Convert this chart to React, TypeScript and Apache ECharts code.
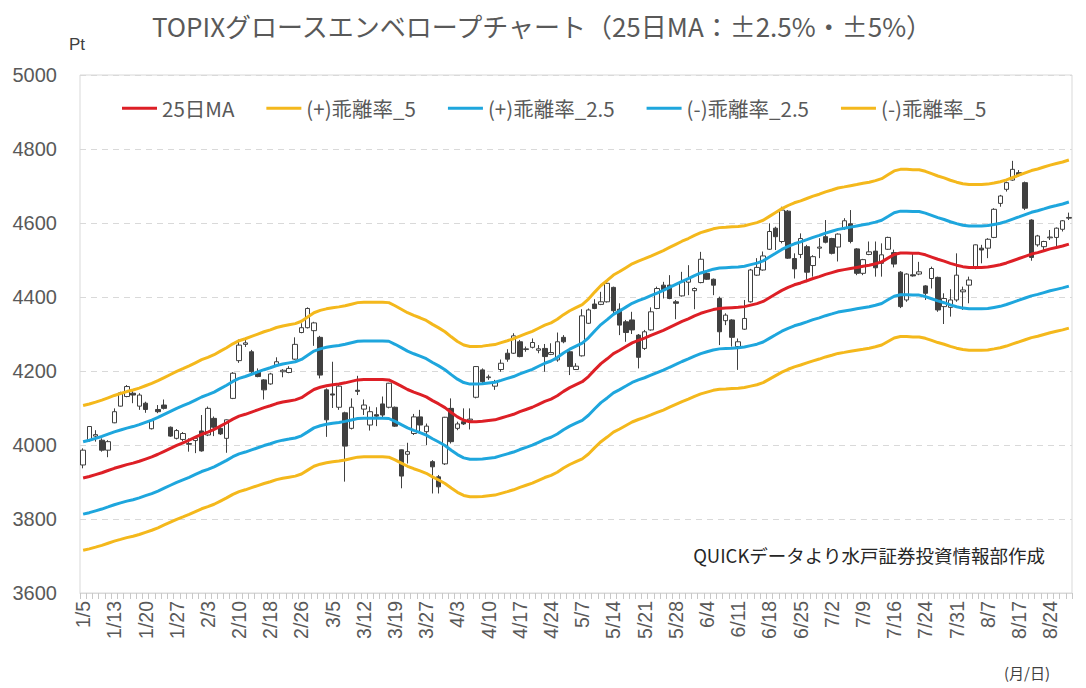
import React, { useEffect, useRef } from "react";
import * as echarts from "echarts";

const dates = [
  "1/5","1/6","1/7","1/8","1/9","1/13","1/14","1/15","1/16","1/19","1/20","1/21","1/22","1/23","1/26","1/27","1/28","1/29","1/30",
  "2/2","2/3","2/4","2/5","2/6","2/9","2/10","2/12","2/13","2/16","2/17","2/18","2/19","2/20","2/24","2/25","2/26","2/27",
  "3/2","3/3","3/4","3/5","3/6","3/9","3/10","3/11","3/12","3/13","3/16","3/17","3/18","3/19","3/23","3/24","3/25","3/26","3/27","3/30","3/31",
  "4/1","4/2","4/3","4/6","4/7","4/8","4/9","4/10","4/13","4/14","4/15","4/16","4/17","4/20","4/21","4/22","4/23","4/24","4/27","4/28","4/30",
  "5/1","5/7","5/8","5/11","5/12","5/13","5/14","5/15","5/18","5/19","5/20","5/21","5/22","5/25","5/26","5/27","5/28","5/29",
  "6/1","6/2","6/3","6/4","6/5","6/8","6/9","6/10","6/11","6/12","6/15","6/16","6/17","6/18","6/19","6/22","6/23","6/24","6/25","6/26","6/29","6/30",
  "7/1","7/2","7/3","7/6","7/7","7/8","7/9","7/10","7/13","7/14","7/15","7/16","7/17","7/21","7/22","7/23","7/24","7/27","7/28","7/29","7/30","7/31",
  "8/3","8/4","8/5","8/6","8/7","8/10","8/12","8/13","8/14","8/17","8/18","8/19","8/20","8/21","8/24","8/25","8/26","8/27",
];

const opens = [
  3946,4014,4024,4013,3986,4060,4105,4131,4140,4105,4113,4044,4096,4108,4048,4018,4015,4004,4012,4038,
  4027,4072,4045,4018,4126,4228,4272,4252,4198,4176,4165,4214,4198,4196,4232,4304,4317,4309,4291,4149,
  4138,4102,4087,4045,4148,4097,4054,4082,4111,4102,4102,3987,3975,4031,4076,4036,3955,3914,3949,4099,
  4045,4063,4067,4129,4203,4182,4159,4204,4248,4248,4279,4258,4264,4256,4261,4245,4230,4291,4252,4204,
  4241,4329,4381,4380,4387,4426,4367,4333,4338,4297,4261,4311,4369,4432,4432,4387,4403,4440,4417,4439,
  4464,4448,4396,4336,4338,4266,4313,4387,4459,4473,4529,4586,4550,4632,4504,4515,4536,4485,4532,4563,
  4558,4535,4587,4598,4530,4464,4515,4524,4491,4529,4520,4467,4392,4460,4462,4430,4450,4453,4374,4372,
  4392,4414,4432,4477,4532,4532,4561,4653,4691,4716,4736,4709,4608,4541,4536,4560,4561,4583,4613,
];

const closes = [
  3986,4050,4028,3986,4009,4090,4141,4158,4135,4135,4096,4066,4090,4099,4024,4039,4031,4002,4018,3984,
  4099,4048,4030,4068,4194,4270,4276,4198,4185,4149,4192,4225,4202,4207,4272,4317,4369,4330,4189,4068,
  4135,4159,3997,4102,4145,4108,4090,4078,4081,4167,4051,3916,3982,4076,4054,4051,3941,3887,4075,4009,
  4057,4057,4070,4212,4171,4184,4171,4221,4232,4295,4239,4260,4277,4260,4239,4250,4279,4279,4212,4213,
  4349,4365,4369,4387,4437,4363,4324,4304,4311,4237,4306,4360,4423,4419,4396,4383,4441,4450,4423,4502,
  4448,4432,4306,4351,4291,4279,4342,4473,4480,4511,4577,4563,4635,4505,4476,4558,4467,4509,4535,4548,
  4518,4570,4606,4550,4464,4501,4522,4479,4514,4561,4489,4374,4462,4457,4468,4410,4477,4365,4396,4392,
  4459,4419,4446,4541,4527,4556,4637,4673,4709,4745,4730,4640,4507,4565,4550,4562,4586,4606,4615,
];

const lows = [
  3937,4009,4009,3982,3967,4059,4104,4129,4113,4095,4087,4042,4086,4096,4022,4015,4010,3982,3978,3982,
  4024,4024,4027,3979,4124,4222,4265,4192,4183,4123,4163,4212,4183,4194,4230,4302,4315,4268,4180,4022,
  4100,4095,3901,4042,4135,4081,4039,4051,4075,4099,4049,3883,3950,4027,4031,4000,3869,3869,3946,4004,
  4040,4054,4042,4126,4167,4176,4149,4198,4225,4246,4237,4252,4261,4248,4198,4243,4225,4275,4189,4203,
  4239,4327,4367,4378,4385,4351,4297,4279,4300,4207,4257,4309,4367,4396,4394,4340,4401,4405,4367,4437,
  4446,4405,4270,4324,4266,4203,4311,4385,4457,4471,4527,4527,4545,4503,4450,4505,4440,4455,4505,4545,
  4515,4496,4581,4545,4459,4459,4513,4455,4455,4527,4480,4370,4387,4455,4459,4392,4423,4360,4327,4347,
  4387,4365,4383,4475,4491,4505,4559,4644,4685,4714,4725,4635,4498,4536,4527,4554,4534,4577,4608,
];

const highs = [
  3991,4051,4040,4018,4013,4099,4144,4162,4146,4140,4117,4068,4108,4123,4050,4043,4035,4018,4022,4081,
  4104,4077,4049,4069,4197,4285,4285,4257,4207,4178,4195,4237,4205,4213,4291,4329,4372,4333,4295,4153,
  4225,4162,4090,4126,4187,4123,4104,4102,4131,4168,4104,3988,4006,4084,4095,4058,3959,3919,4076,4126,
  4063,4099,4099,4213,4207,4190,4176,4231,4259,4302,4284,4266,4288,4270,4273,4275,4304,4297,4255,4221,
  4367,4369,4394,4414,4446,4428,4383,4338,4360,4300,4311,4372,4428,4441,4459,4392,4468,4486,4426,4522,
  4470,4450,4401,4356,4340,4288,4392,4476,4505,4523,4599,4590,4644,4635,4518,4572,4541,4513,4559,4608,
  4560,4572,4613,4635,4532,4503,4550,4550,4545,4563,4528,4470,4464,4518,4495,4432,4482,4455,4410,4421,
  4518,4428,4455,4542,4541,4559,4640,4676,4712,4768,4743,4712,4610,4568,4552,4581,4588,4608,4628,
];

const ma25 = [
  3911,3915,3920,3925,3931,3937,3942,3947,3951,3956,3962,3968,3975,3983,3991,3999,4006,4013,4021,4029,
  4035,4042,4051,4060,4070,4078,4083,4089,4095,4101,4106,4112,4116,4119,4122,4128,4139,4150,4156,4160,
  4163,4165,4168,4172,4176,4177,4177,4177,4177,4176,4168,4159,4150,4143,4137,4130,4120,4111,4101,4088,
  4076,4067,4063,4063,4064,4066,4068,4073,4078,4083,4090,4096,4102,4110,4118,4124,4133,4145,4155,4163,
  4171,4185,4203,4220,4233,4247,4256,4266,4276,4283,4289,4296,4303,4310,4318,4326,4334,4341,4349,4356,
  4361,4366,4369,4370,4371,4372,4374,4378,4382,4388,4398,4408,4418,4426,4433,4438,4444,4450,4455,4461,
  4466,4471,4474,4477,4480,4483,4486,4490,4495,4505,4515,4519,4519,4518,4518,4514,4508,4502,4497,4491,
  4486,4482,4480,4480,4480,4481,4484,4487,4492,4498,4504,4510,4516,4520,4525,4530,4534,4538,4543,
];

// Envelope widths stated in the chart title (25日MA：±2.5%・±5%)
const envelopePct = { wide: 5, narrow: 2.5 };

const yTicks = { min: 3600, max: 5000, interval: 200 };

const legendNames = ["25日MA", "(+)乖離率_5", "(+)乖離率_2.5", "(-)乖離率_2.5", "(-)乖離率_5"];

const RED = "#dd1f26";
const GOLD = "#f4b81c";
const BLUE = "#1ea6dd";
const TEXT = "#595959";
const JP = "'Noto Sans CJK JP', 'Noto Sans', sans-serif";
const NUM = "'Liberation Sans', Arial, sans-serif";

export default function App() {
  const ref = useRef<HTMLDivElement>(null);

  useEffect(() => {
    document.body.style.margin = "0";
    if (!ref.current) return;
    const chart = echarts.init(ref.current, undefined, { renderer: "svg" });

    const env = (p: number) => ma25.map((v) => Math.round(v * (1 + p / 100) * 10) / 10);
    const candle = dates.map((_, i) => [opens[i], closes[i], lows[i], highs[i]]);

    const line = (name: string, data: number[], color: string) => ({
      name,
      type: "line",
      data,
      showSymbol: false,
      symbol: "none",
      lineStyle: { color, width: 3 },
      itemStyle: { color },
      z: 3,
    });

    chart.setOption({
      animation: false,
      backgroundColor: "#ffffff",
      title: {
        text: "TOPIXグロースエンベロープチャート（25日MA：±2.5%・±5%）",
        left: 537,
        textAlign: "center",
        top: 7,
        textStyle: { fontFamily: JP, fontSize: 26, fontWeight: "normal", color: TEXT },
      },
      legend: {
        data: legendNames,
        left: 117,
        top: 93,
        icon: "rect",
        itemWidth: 35,
        itemHeight: 3,
        itemGap: 32,
        textStyle: { fontFamily: JP, fontSize: 20.5, color: TEXT },
      },
      grid: {
        left: 80,
        right: 14,
        top: 75,
        bottom: 95,
        show: true,
        borderColor: "#d9d9d9",
        borderWidth: 1,
      },
      xAxis: {
        type: "category",
        data: dates,
        boundaryGap: true,
        axisLine: { lineStyle: { color: "#d9d9d9" } },
        axisTick: { show: true, interval: 0, length: 6, lineStyle: { color: "#c8c8c8" } },
        axisLabel: { interval: 4, rotate: 90, fontSize: 19.5, color: TEXT, fontFamily: NUM, margin: 8 },
        splitLine: { show: false },
      },
      yAxis: {
        type: "value",
        min: yTicks.min,
        max: yTicks.max,
        interval: yTicks.interval,
        axisLine: { show: false },
        axisTick: { show: false },
        axisLabel: {
          fontSize: 20,
          color: TEXT,
          fontFamily: NUM,
          margin: 23,
          formatter: (v: number) => String(v),
        },
        splitLine: { lineStyle: { color: "#d9d9d9", type: [6, 5], width: 1 } },
      },
      series: [
        {
          name: "TOPIXグロース",
          type: "candlestick",
          data: candle,
          barWidth: 5,
          itemStyle: {
            color: "#ffffff",
            color0: "#404040",
            borderColor: "#404040",
            borderColor0: "#404040",
            borderWidth: 1,
          },
          z: 2,
        },
        line(legendNames[0], ma25, RED),
        line(legendNames[1], env(envelopePct.wide), GOLD),
        line(legendNames[2], env(envelopePct.narrow), BLUE),
        line(legendNames[3], env(-envelopePct.narrow), BLUE),
        line(legendNames[4], env(-envelopePct.wide), GOLD),
      ],
      graphic: [
        {
          type: "text",
          left: 69,
          top: 36,
          style: { text: "Pt", fontSize: 17, fill: "#404040", fontFamily: NUM },
        },
        {
          type: "text",
          x: 1045,
          y: 555,
          style: {
            text: "QUICKデータより水戸証券投資情報部作成",
            fontSize: 18.5,
            fill: "#262626",
            fontFamily: JP,
            textAlign: "right",
            textVerticalAlign: "middle",
          },
        },
        {
          type: "text",
          x: 1027,
          y: 672,
          style: {
            text: "(月/日)",
            fontSize: 15,
            fill: "#404040",
            fontFamily: JP,
            textAlign: "center",
            textVerticalAlign: "middle",
          },
        },
      ],
    });

    return () => chart.dispose();
  }, []);

  return <div ref={ref} style={{ width: 1086, height: 688 }} />;
}
